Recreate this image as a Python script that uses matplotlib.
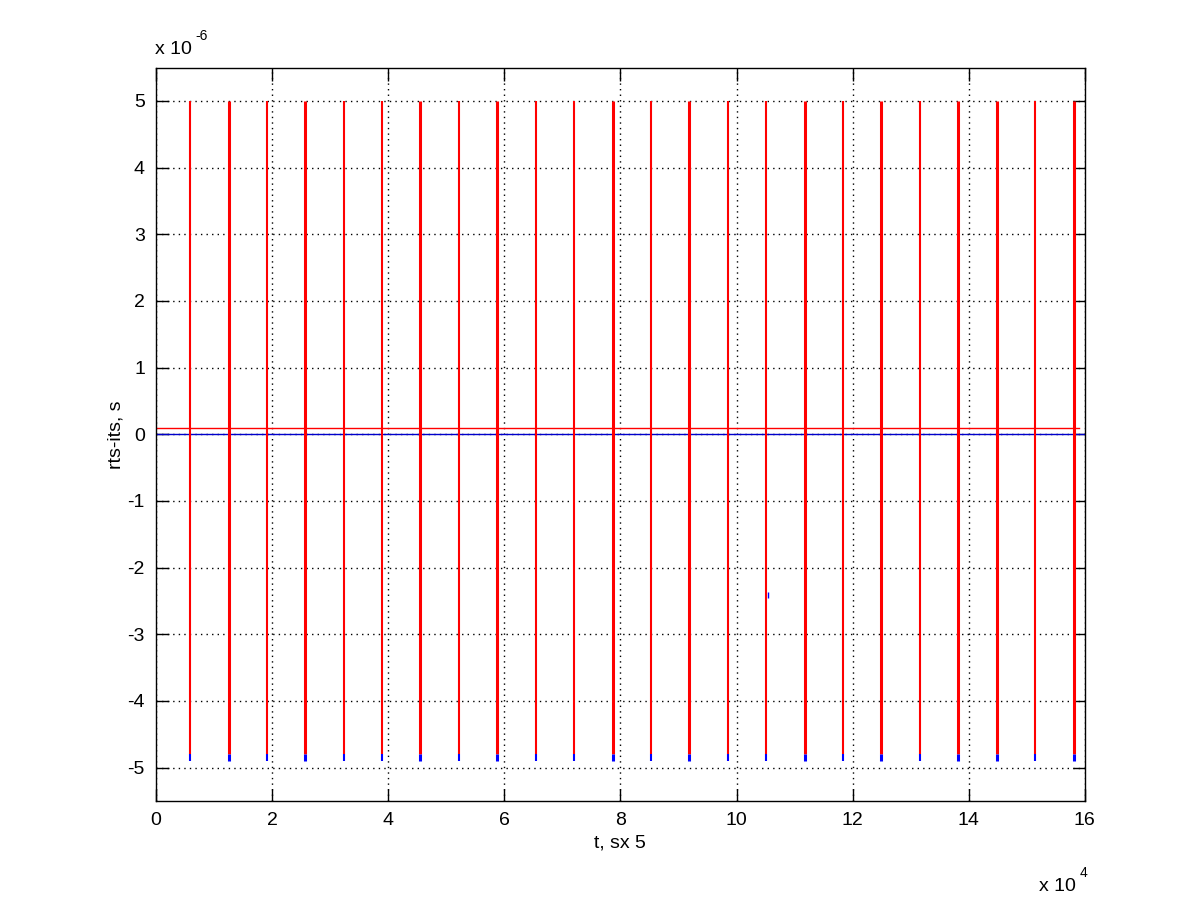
import numpy as np
import matplotlib
matplotlib.use('Agg')
import matplotlib.pyplot as plt

matplotlib.rc('font', family=['Liberation Sans', 'DejaVu Sans'], size=14)

# spike times, units of 1e4 s
spike_t = [0.586, 1.257, 1.912, 2.566, 3.238, 3.893, 4.547, 5.219, 5.873, 6.545,
           7.199, 7.871, 8.525, 9.180, 9.852, 10.506, 11.178, 11.832, 12.487,
           13.159, 13.813, 14.485, 15.139, 15.811]
# spikes drawn from overlapping samples (look heavier)
spike_heavy = [0, 1, 0, 1, 0, 0, 1, 0, 1, 0, 0, 1, 0, 1, 0, 0, 1, 0, 1, 0, 1, 1, 0, 1]
# values, units of 1e-6 s
spike_top = 5.0
red_bottom = -4.80
blue_bottom = -4.90
offset_level = 0.1
offset_end = 15.90
odd_t = 10.54
odd_lo, odd_hi = -2.46, -2.36

fig = plt.figure(figsize=(12, 9.01), dpi=100)
ax = fig.add_axes([0.13, 0.111, 0.774, 0.814])

for t, heavy in zip(spike_t, spike_heavy):
    lw = 2.2 if heavy else 1.5
    ax.vlines(t, red_bottom, spike_top, color='red', lw=lw, zorder=3)
    ax.vlines(t, blue_bottom, red_bottom, color='blue', lw=lw, zorder=3)

ax.plot([0, offset_end], [offset_level, offset_level], color='red', lw=1.0, zorder=2)
ax.axhline(0, color='#0000cc', lw=1.0, zorder=2)
ax.vlines(odd_t, odd_lo, odd_hi, color='blue', lw=1.0, zorder=4)

ax.set_xlim(0, 16)
ax.set_ylim(-5.5, 5.5)
ax.set_xticks(np.arange(0, 17, 2))
ax.set_yticks(np.arange(-5, 6, 1))
ax.set_xticklabels([str(v) for v in range(0, 17, 2)])
ax.set_yticklabels([str(v) for v in range(-5, 6)])
ax.tick_params(direction='in', length=9, width=1, top=True, right=True, pad=8)
ax.grid(True, color='black', linestyle=(0, (1, 3)), linewidth=1.0)
for s in ax.spines.values():
    s.set_linewidth(1.0)

ax.set_ylabel('rts-its, s', labelpad=2)
ax.set_xlabel('t, sx 5', labelpad=4)

# exponent labels, drawn MATLAB style
fig.text(0.129, 0.936, 'x 10', ha='left', va='bottom', fontsize=14)
fig.text(0.163, 0.952, '-6', ha='left', va='bottom', fontsize=10)
fig.text(0.866, 0.007, 'x 10', ha='left', va='bottom', fontsize=14)
fig.text(0.900, 0.023, '4', ha='left', va='bottom', fontsize=10)

fig.savefig('out.png', dpi=100)
